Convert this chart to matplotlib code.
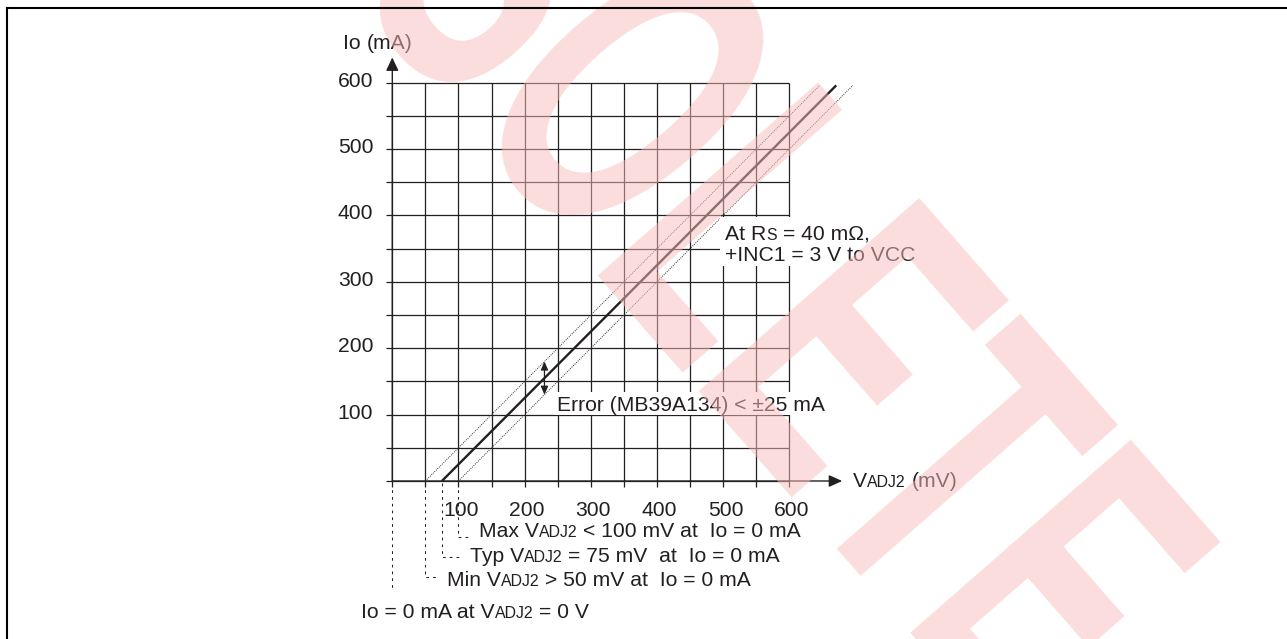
import numpy as np
import matplotlib
matplotlib.use("Agg")
import matplotlib.pyplot as plt
from matplotlib import transforms
from matplotlib.textpath import TextPath
from matplotlib.font_manager import FontProperties
from matplotlib.patches import PathPatch, Rectangle
from matplotlib.lines import Line2D

# ---------------- data ----------------
grid_v = list(range(0, 601, 50))          # mV grid
grid_i = list(range(0, 601, 50))          # mA grid
xtick_v = [100, 200, 300, 400, 500, 600]
ytick_i = [100, 200, 300, 400, 500, 600]
xtick_labels = ["100", "200", "300", "400", "500", "600"]
ytick_labels = ["100", "200", "300", "400", "500", "600"]

typ_v = [75, 671]
typ_i = [0, 596]
min_v = [50, 646]
min_i = [0, 596]
max_v = [100, 696]
max_i = [0, 596]
err_v = 230
err_band = 25
leader_v = [100, 75, 50, 0]

WATERMARK = "OBSOLETE"

# ---------------- figure / axes ----------------
W, H = 1287, 639
fig = plt.figure(figsize=(W / 100, H / 100), dpi=100)
fig.patch.set_facecolor("white")
ax = fig.add_axes([0, 0, 1, 1])
ax.axis("off")

PX_MV = 33.08 / 50.0
PX_MA = 33.19 / 50.0
X0, Y0 = 392.3, 481.0   # image pixel position of the origin
ax.set_xlim(-X0 / PX_MV, (W - X0) / PX_MV)
ax.set_ylim(-(H - Y0) / PX_MA, Y0 / PX_MA)

INK = "#231f20"
FONT = "Liberation Sans"
FS = 15.2
FS_S = 11.4

# grid
ax.vlines(grid_v, -9, 600, colors=INK, lw=0.9, zorder=1)
ax.hlines(grid_i, -9.5, 600, colors=INK, lw=0.9, zorder=1)

# axes arrows
ax.annotate("", xy=(680, 0), xytext=(0, 0),
            arrowprops=dict(arrowstyle="-|>,head_length=0.8,head_width=0.36",
                            mutation_scale=10, lw=1.0, color=INK,
                            shrinkA=0, shrinkB=0), zorder=2)
ax.annotate("", xy=(0, 638), xytext=(0, 0),
            arrowprops=dict(arrowstyle="-|>,head_length=0.8,head_width=0.38",
                            mutation_scale=10, lw=1.0, color=INK,
                            shrinkA=0, shrinkB=0), zorder=2)

# characteristic lines
ax.plot(min_v, min_i, color="#333333", lw=0.7, ls=(0, (1, 1.2)), zorder=3)
ax.plot(max_v, max_i, color="#333333", lw=0.7, ls=(0, (1, 1.2)), zorder=3)
ax.plot(typ_v, typ_i, color=INK, lw=1.7, solid_capstyle="butt", zorder=4)

# error arrow
err_c = float(np.interp(err_v, typ_v, typ_i))
ax.annotate("", xy=(err_v, err_c + err_band), xytext=(err_v, err_c - err_band),
            arrowprops=dict(arrowstyle="<|-|>,head_length=0.5,head_width=0.22",
                            mutation_scale=10, lw=0.9, color=INK,
                            shrinkA=0, shrinkB=0), zorder=5)

# tick labels
for v, lab in zip(xtick_v, xtick_labels):
    tr = transforms.offset_copy(ax.transData, fig=fig, x=2.5, y=-35, units="dots")
    fig.text(v, 0, lab, transform=tr, ha="center", va="baseline",
             fontsize=FS, family=FONT, color=INK, zorder=6)
for i, lab in zip(ytick_i, ytick_labels):
    tr = transforms.offset_copy(ax.transData, fig=fig, x=-19, y=-4, units="dots")
    fig.text(0, i, lab, transform=tr, ha="right", va="baseline",
             fontsize=FS, family=FONT, color=INK, zorder=6)

# ---------------- text helpers (image pixel coords, y down) ----------------
T_img = transforms.Affine2D().scale(1, -1).translate(0, H)
renderer = fig.canvas.get_renderer()


def text_width(s, size):
    t = fig.text(0, 0, "|" + s + "|", fontsize=size, family=FONT)
    w1 = t.get_window_extent(renderer).width
    t.set_text("||")
    w2 = t.get_window_extent(renderer).width
    t.remove()
    return w1 - w2


def seg_text(x, y, segs):
    cur = x
    for s, small in segs:
        size = FS_S if small else FS
        st = s.lstrip(" ")
        lead = len(s) - len(st)
        if lead:
            cur += text_width(" " * lead, size)
        body = st.rstrip(" ")
        if body:
            fig.text(cur, y, body, transform=T_img, ha="left", va="baseline",
                     fontsize=size, family=FONT, color=INK, zorder=6)
        cur += text_width(st, size)
    return cur


FPX = FS * 100 / 72.0

# axis titles
seg_text(343, 49.3, [("Io", False), (" (mA)", False)])
seg_text(852.7, 487.3, [("V", False), ("ADJ2", True), (" (mV)", False)])

# condition box
x_end1 = seg_text(725.3, 239.5, [("At R", False), ("S", True), (" = 40 m\u03a9,", False)])
x_end2 = seg_text(725.3, 260.7, [("+INC1 = 3 V to VCC", False)])
fig.add_artist(Rectangle((720, 217), max(x_end1, x_end2) + 6 - 720, 265.5 - 217,
                         transform=T_img, facecolor="white", edgecolor="none", zorder=5))

# error text
x_end3 = seg_text(556.7, 411, [("Error (MB39A134) < \u00b125 mA", False)])
fig.add_artist(Rectangle((555, 411 - 0.92 * FPX), x_end3 + 3 - 555, 1.13 * FPX,
                         transform=T_img, facecolor="white", edgecolor="none", zorder=5))

# bottom notes with leaders
rows = [
    (536.5, 478.6, 537.3, [("Max V", False), ("ADJ2", True), (" < 100 mV at  Io = 0 mA", False)]),
    (557.0, 469.6, 562.0, [("Typ V", False), ("ADJ2", True), (" = 75 mV  at  Io = 0 mA", False)]),
    (577.0, 446.7, 586.5, [("Min V", False), ("ADJ2", True), (" > 50 mV at  Io = 0 mA", False)]),
    (590.0, None, None, None),
]
for v, (ly, tx, ty, segs) in zip(leader_v, rows):
    xd = ax.transData.transform((v, 0))[0]
    if tx is None:
        xs, ys = [xd, xd], [483, ly]
    else:
        xs, ys = [xd, xd, tx - 7.5], [483, ly, ly]
    fig.add_artist(Line2D(xs, ys, transform=T_img, color=INK, lw=0.75,
                          ls=(0, (2.6, 3.9)), zorder=2))
    if segs is not None:
        seg_text(tx, ty, segs)

seg_text(361, 617.5, [("Io = 0 mA at V", False), ("ADJ2", True), (" = 0 V", False)])

# ---------------- watermark ----------------
fp = FontProperties(family="Liberation Sans", weight="bold")
wm = TextPath((0, 0), WATERMARK, size=100, prop=fp)
cap_h = TextPath((0, 0), "E", size=100, prop=fp).get_extents().ymax
t_right = TextPath((0, 0), WATERMARK[:7], size=100, prop=fp).get_extents().xmax
A = transforms.Affine2D().scale(4.26 * 0.59, 4.26).rotate_deg(-48.8)
px, py = A.transform((t_right, cap_h))
A.translate(1118 - px, (H - 425) - py)
fig.add_artist(PathPatch(wm, transform=A, facecolor="#fbbdbd", alpha=0.5,
                         edgecolor="none", zorder=10))

# ---------------- frame ----------------
fig.add_artist(Line2D([7, W + 2], [8.3, 8.3], transform=T_img, color="black", lw=1.5, zorder=11))
fig.add_artist(Line2D([7, 7], [8.3, H + 2], transform=T_img, color="black", lw=1.5, zorder=11))

fig.savefig("out.png", dpi=100, facecolor="white")
